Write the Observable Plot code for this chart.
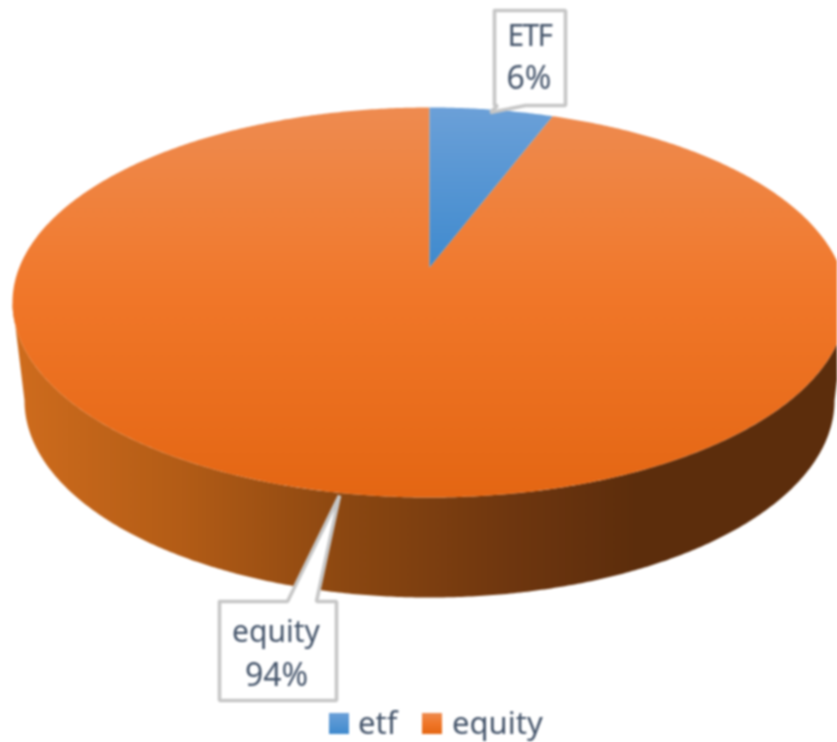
<!DOCTYPE html>
<html>
<head>
<meta charset="utf-8">
<script src="https://cdn.jsdelivr.net/npm/d3@7"></script>
<script src="https://cdn.jsdelivr.net/npm/@observablehq/plot@0.6"></script>
<style>
  html, body { margin: 0; padding: 0; background: #fff; overflow: hidden; }
  #chart svg { display: block; background: #fff; filter: blur(0.8px); }
  .narrow-label text { letter-spacing: -1.6px; }
  #legend { position: absolute; top: 704px; left: 0; width: 837px; height: 37px; font-family: "Noto Sans", sans-serif; font-size: 31px; color: #44546A; filter: blur(0.8px); }
  #legend span { position: absolute; top: 0; line-height: 37px; height: 37px; white-space: nowrap; }
  #legend i { position: absolute; top: 9px; width: 20px; height: 21px; }
</style>
</head>
<body>
<div id="chart"></div>
<div id="legend"></div>
<script>
// --- data ---
const categories = ["etf", "equity"];
const labels = ["ETF", "equity"];
const shares = [5.7, 94.3];

// --- appearance ---
const width = 837, height = 704;
const fontFamily = "'Noto Sans', sans-serif";
const top3d = {cx: 429, cy: 302, rx: 417, ry: 195, tilt: 0.18};
const base3d = {cx: 429, cy: 400, rx: 405, ry: 197};
const calloutStroke = "#c6c6c6";
const textColor = "#44546A";

const callouts = [
  {name: 0, outline: [[494,10],[565,10],[565,105],[525,105],[490,112],[497,105],[494,105]], label: [529,36], value: [528.5,78], className: "narrow-label"},
  {name: 1, outline: [[219,601],[287,601],[339,495],[316,601],[336,601],[336,700],[219,700]], label: [275.5,632], value: [276,675]}
];

// Position on the tilted disc for a fraction of the way round (clockwise from 12 o'clock).
function rim(fraction, radius = 1) {
  const a = fraction * 2 * Math.PI, c = top3d.tilt;
  const u = radius * Math.sin(a), v = -radius * Math.cos(a);
  const w = 1 - c * v;
  return {x: top3d.cx + top3d.rx * u * Math.sqrt(1 - c * c) / w,
          y: top3d.cy + top3d.ry * (v - c) / w};
}

function slice(from, to) {
  const n = Math.ceil((to - from) * 720);
  const pts = [rim(0, 0)];
  for (let i = 0; i <= n; ++i) pts.push(rim(from + (to - from) * i / n));
  pts.push(rim(0, 0));
  return pts;
}

function sideWall() {
  const pts = [];
  for (let d = 180; d >= 0; d -= 0.5) {
    const t = d * Math.PI / 180;
    pts.push({x: top3d.cx + top3d.rx * Math.cos(t), y: top3d.cy + top3d.ry * Math.sin(t)});
  }
  for (let d = 0; d <= 180; d += 0.5) {
    const t = d * Math.PI / 180;
    pts.push({x: base3d.cx + base3d.rx * Math.cos(t), y: base3d.cy + base3d.ry * Math.sin(t)});
  }
  pts.push(pts[0]);
  return pts;
}

const total = d3.sum(shares);
const fractions = shares.map(s => s / total);
const etfSlice = slice(0, fractions[0]);
const equitySlice = slice(fractions[0], 1);

function gradients() {
  const defs = d3.create("svg:defs");
  const add = (id, vertical, stops) => {
    const g = defs.append("linearGradient").attr("id", id)
      .attr("x1", 0).attr("y1", 0).attr("x2", vertical ? 0 : 1).attr("y2", vertical ? 1 : 0);
    stops.forEach(([o, c]) => g.append("stop").attr("offset", o).attr("stop-color", c));
  };
  add("gradEtf", true, [[0, "#6ba0d8"], [1, "#3f8ace"]]);
  add("gradEquity", true, [[0, "#ee8b50"], [0.3, "#f07f38"], [0.5, "#f07628"], [1, "#e46613"]]);
  add("gradSide", false, [[0, "#cf6c1d"], [0.2, "#b35c16"], [0.4, "#8b4711"], [0.6, "#6e360f"], [0.75, "#5c2d0c"], [1, "#5c2d0c"]]);
  return defs.node();
}

const area = (pts, fill) => Plot.line(pts, {x: "x", y: "y", fill, stroke: "none", curve: "linear"});

const chart = Plot.plot({
  width, height,
  margin: 0,
  x: {domain: [0, width], range: [0, width], axis: null},
  y: {domain: [0, height], range: [0, height], axis: null},
  marks: [
    gradients,
    area(sideWall(), "url(#gradSide)"),
    area(equitySlice, "url(#gradEquity)"),
    area(etfSlice, "url(#gradEtf)"),
    ...callouts.flatMap(c => {
      const outline = [...c.outline, c.outline[0]];
      return [
        Plot.line(outline, {x: d => d[0], y: d => d[1], fill: "#fff", stroke: calloutStroke, strokeWidth: 3.6, strokeLinejoin: "miter", curve: "linear"}),
        Plot.text([labels[c.name]], {x: c.label[0], y: c.label[1], text: d => d, fill: textColor, fontSize: 30, fontFamily, className: c.className}),
        Plot.text([Math.round(shares[c.name]) + "%"], {x: c.value[0], y: c.value[1], text: d => d, fill: textColor, fontSize: 32, fontFamily})
      ];
    })
  ]
});
document.getElementById("chart").append(chart);

// --- legend ---
const legendColors = ["linear-gradient(#6ba0d8,#3f8ace)", "linear-gradient(#ee8b50,#f07628 50%,#e46613)"];
const legendSpots = [[329, 358], [422, 452]];
const legend = d3.select("#legend");
categories.forEach((name, i) => {
  legend.append("i").style("left", legendSpots[i][0] + "px").style("background", legendColors[i]);
  legend.append("span").style("left", legendSpots[i][1] + "px").text(name);
});
</script>
</body>
</html>
